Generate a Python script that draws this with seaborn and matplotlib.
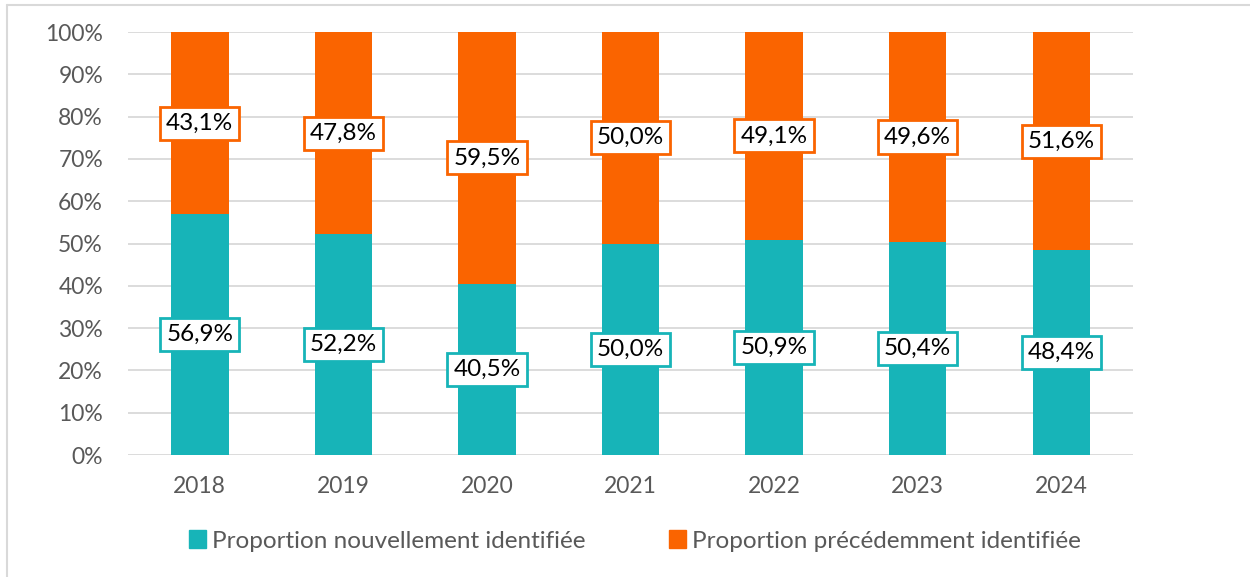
import matplotlib
matplotlib.use('Agg')
import matplotlib.pyplot as plt
from matplotlib.lines import Line2D
from matplotlib.patches import Patch
import pandas as pd
import seaborn as sns

years = ['2018', '2019', '2020', '2021', '2022', '2023', '2024']
new_share = [56.9, 52.2, 40.5, 50.0, 50.9, 50.4, 48.4]
prev_share = [43.1, 47.8, 59.5, 50.0, 49.1, 49.6, 51.6]
labels = ['Proportion nouvellement identifiée', 'Proportion précédemment identifiée']

teal = '#17B4B8'
orange = '#FA6400'
grey_text = '#595959'

sns.set_style('white')
plt.rcParams['font.family'] = ['Lato', 'DejaVu Sans']

data = pd.DataFrame({'year': years, 'new': new_share, 'prev': prev_share})
data['total'] = data['new'] + data['prev']

fig = plt.figure(figsize=(12.5, 5.77), dpi=100)
ax = fig.add_axes([0.1024, 0.2114, 0.8040, 0.7331])

sns.barplot(data=data, x='year', y='total', color=orange, width=0.4,
            saturation=1, linewidth=0, ax=ax, zorder=3)
sns.barplot(data=data, x='year', y='new', color=teal, width=0.4,
            saturation=1, linewidth=0, ax=ax, zorder=3)

ax.set_ylim(0, 100)
ax.set_yticks(range(0, 101, 10))
ax.set_yticklabels([f'{v}%' for v in range(0, 101, 10)])
ax.yaxis.grid(True, color='#D9D9D9', linewidth=1.3, zorder=0)
ax.set_axisbelow(True)
for s in ax.spines.values():
    s.set_visible(False)
ax.set_xlabel('')
ax.set_ylabel('')
ax.tick_params(axis='y', length=0, pad=18, labelsize=16.5, labelcolor=grey_text)
ax.tick_params(axis='x', length=0, pad=15, labelsize=16.5, labelcolor=grey_text)

def fmt(v):
    return f'{v:.1f}'.replace('.', ',') + '%'

for i, (n, p) in enumerate(zip(new_share, prev_share)):
    ax.text(i, n / 2, fmt(n), ha='center', va='center', fontsize=17.5, color='black',
            zorder=5, bbox=dict(boxstyle='square,pad=0.25', fc='white', ec=teal, lw=2))
    ax.text(i, n + p / 2, fmt(p), ha='center', va='center', fontsize=17.5, color='black',
            zorder=5, bbox=dict(boxstyle='square,pad=0.25', fc='white', ec=orange, lw=2))

handles = [Patch(color=teal, label=labels[0]), Patch(color=orange, label=labels[1])]
leg = fig.legend(handles=handles, loc='center', bbox_to_anchor=(0.508, 1 - 541 / 577),
                 ncol=2, frameon=False, fontsize=17.5, handlelength=0.7, handleheight=0.7,
                 handletextpad=0.25, columnspacing=3.4)
for t in leg.get_texts():
    t.set_color(grey_text)

# outer frame edges visible in the reference crop
fig.add_artist(Line2D([7 / 1250, 1], [1 - 5 / 577, 1 - 5 / 577], color='#D9D9D9', lw=1.5))
fig.add_artist(Line2D([7 / 1250, 7 / 1250], [0, 1 - 5 / 577], color='#D9D9D9', lw=1.5))

fig.savefig('out.png', dpi=100, facecolor='white')
